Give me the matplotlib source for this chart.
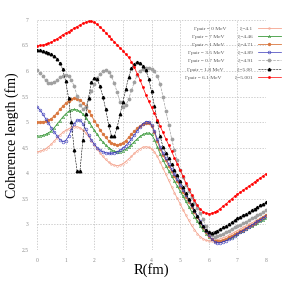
import numpy as np
import matplotlib
matplotlib.use("Agg")
import matplotlib.pyplot as plt

# R grid (fm), step 0.1
r = np.arange(0, 81) / 10.0

salmon = [4.42, 4.43, 4.45, 4.48, 4.52, 4.57, 4.63, 4.69, 4.75, 4.80,
          4.84, 4.87, 4.90, 4.91, 4.91, 4.89, 4.85, 4.79, 4.72, 4.64,
          4.56, 4.48, 4.40, 4.33, 4.27, 4.22, 4.18, 4.16, 4.15, 4.16,
          4.19, 4.23, 4.28, 4.33, 4.39, 4.44, 4.48, 4.51, 4.52, 4.51,
          4.48, 4.42, 4.33, 4.22, 4.10, 3.98, 3.86, 3.74, 3.62, 3.51,
          3.40, 3.29, 3.18, 3.08, 2.98, 2.90, 2.82, 2.76, 2.72, 2.69,
          2.68, 2.68, 2.69, 2.70, 2.72, 2.74, 2.76, 2.79, 2.82, 2.85,
          2.88, 2.91, 2.94, 2.97, 3.00, 3.03, 3.06, 3.09, 3.12, 3.15,
          3.18]

green = [4.73, 4.73, 4.74, 4.76, 4.79, 4.83, 4.89, 4.96, 5.03, 5.10,
         5.16, 5.21, 5.24, 5.25, 5.24, 5.21, 5.16, 5.09, 5.01, 4.93,
         4.84, 4.76, 4.68, 4.61, 4.55, 4.50, 4.46, 4.43, 4.42, 4.42,
         4.44, 4.47, 4.51, 4.56, 4.62, 4.67, 4.72, 4.76, 4.78, 4.79,
         4.76, 4.66, 4.52, 4.38, 4.26, 4.15, 4.05, 3.95, 3.85, 3.75,
         3.65, 3.55, 3.45, 3.35, 3.25, 3.15, 3.06, 2.97, 2.89, 2.82,
         2.76, 2.71, 2.68, 2.67, 2.67, 2.69, 2.71, 2.73, 2.76, 2.79,
         2.82, 2.85, 2.88, 2.91, 2.94, 2.97, 3.00, 3.03, 3.06, 3.09,
         3.12]

orange = [5.00, 5.00, 5.01, 5.02, 5.04, 5.07, 5.12, 5.18, 5.25, 5.31,
          5.37, 5.42, 5.45, 5.47, 5.46, 5.43, 5.38, 5.31, 5.22, 5.13,
          5.03, 4.94, 4.85, 4.77, 4.70, 4.64, 4.60, 4.57, 4.56, 4.57,
          4.60, 4.64, 4.70, 4.76, 4.82, 4.88, 4.93, 4.96, 4.98, 4.98,
          4.93, 4.80, 4.63, 4.48, 4.36, 4.25, 4.14, 4.04, 3.94, 3.84,
          3.74, 3.64, 3.54, 3.44, 3.34, 3.24, 3.14, 3.04, 2.94, 2.85,
          2.77, 2.71, 2.68, 2.67, 2.68, 2.70, 2.72, 2.75, 2.78, 2.81,
          2.84, 2.87, 2.90, 2.93, 2.96, 2.99, 3.03, 3.07, 3.11, 3.15,
          3.19]

blue = [5.30, 5.24, 5.16, 5.07, 4.98, 4.89, 4.81, 4.73, 4.66, 4.62,
        4.64, 4.72, 4.85, 4.97, 5.04, 5.04, 4.97, 4.86, 4.75, 4.65,
        4.57, 4.50, 4.45, 4.42, 4.40, 4.39, 4.39, 4.40, 4.42, 4.45,
        4.49, 4.54, 4.60, 4.67, 4.75, 4.83, 4.91, 4.97, 5.01, 5.01,
        4.95, 4.83, 4.67, 4.52, 4.40, 4.29, 4.18, 4.08, 3.98, 3.88,
        3.78, 3.68, 3.58, 3.47, 3.37, 3.27, 3.17, 3.07, 2.97, 2.88,
        2.79, 2.72, 2.66, 2.64, 2.64, 2.66, 2.68, 2.71, 2.74, 2.78,
        2.81, 2.85, 2.88, 2.92, 2.95, 2.99, 3.02, 3.06, 3.09, 3.13,
        3.16]

gray = [6.01, 5.97, 5.90, 5.82, 5.77, 5.76, 5.78, 5.83, 5.88, 5.91,
        5.92, 5.90, 5.83, 5.70, 5.52, 5.34, 5.26, 5.30, 5.45, 5.60,
        5.74, 5.86, 5.95, 6.00, 6.02, 5.99, 5.90, 5.76, 5.58, 5.40,
        5.30, 5.33, 5.45, 5.62, 5.79, 5.92, 6.00, 6.04, 6.05, 6.05,
        6.04, 6.00, 5.90, 5.75, 5.50, 5.22, 4.95, 4.68, 4.45, 4.25,
        4.07, 3.92, 3.78, 3.65, 3.53, 3.42, 3.32, 3.22, 3.10, 2.97,
        2.86, 2.79, 2.76, 2.77, 2.79, 2.82, 2.85, 2.88, 2.91, 2.94,
        2.96, 2.99, 3.02, 3.05, 3.08, 3.12, 3.15, 3.18, 3.21, 3.25,
        3.28]

black = [6.41, 6.41, 6.40, 6.38, 6.36, 6.34, 6.30, 6.24, 6.15, 6.03,
         5.80, 5.48, 5.00, 4.45, 4.05, 4.04, 4.65, 5.15, 5.48, 5.78,
         5.87, 5.84, 5.70, 5.50, 5.25, 4.95, 4.73, 4.72, 4.90, 5.15,
         5.40, 5.65, 5.88, 6.05, 6.14, 6.18, 6.16, 6.10, 6.02, 5.85,
         5.60, 5.32, 5.02, 4.72, 4.52, 4.40, 4.29, 4.18, 4.07, 3.96,
         3.84, 3.73, 3.61, 3.50, 3.39, 3.28, 3.16, 3.05, 2.96, 2.89,
         2.85, 2.84, 2.86, 2.88, 2.91, 2.94, 2.97, 3.01, 3.04, 3.08,
         3.12, 3.15, 3.18, 3.21, 3.24, 3.28, 3.31, 3.34, 3.37, 3.40,
         3.43]

red = [6.49, 6.50, 6.51, 6.52, 6.54, 6.56, 6.60, 6.63, 6.67, 6.71,
       6.74, 6.77, 6.80, 6.84, 6.87, 6.90, 6.93, 6.95, 6.97, 6.97,
       6.95, 6.91, 6.86, 6.81, 6.75, 6.69, 6.63, 6.57, 6.51, 6.45,
       6.40, 6.33, 6.27, 6.18, 6.07, 5.95, 5.82, 5.68, 5.54, 5.41,
       5.29, 5.17, 5.05, 4.92, 4.80, 4.67, 4.55, 4.43, 4.30, 4.18,
       4.06, 3.94, 3.81, 3.69, 3.58, 3.47, 3.37, 3.30, 3.25, 3.22,
       3.21, 3.22, 3.24, 3.27, 3.31, 3.36, 3.40, 3.45, 3.50, 3.55,
       3.59, 3.63, 3.67, 3.71, 3.75, 3.79, 3.83, 3.87, 3.91, 3.95,
       3.99]

labels = ["Γpair = 0 MeV", "Γpair = 7 MeV", "Γpair = 1 MeV", "Γpair = 3.5 MeV",
          "Γpair = 0.7 MeV", "Γpair = 1.8 MeV", "Γpair = 6.1 MeV"]
xis = ["ξ=4.1", "ξ=4.46", "ξ=4.71", "ξ=4.89", "ξ=4.91", "ξ=5.00", "ξ=5.001"]

series = [salmon, green, orange, blue, gray, black, red]
styles = [
    dict(color="#f5a58f", marker="o", ms=1.3, mfc="none", mew=0.4, ls="-", lw=0.6),
    dict(color="#3c9a3c", marker="^", ms=1.7, mfc="none", mew=0.4, ls="-", lw=0.6),
    dict(color="#d9773f", marker="o", ms=1.4, ls="-", lw=0.6),
    dict(color="#3838b8", marker="o", ms=2.0, mfc="none", mew=0.4, ls="-", lw=0.5),
    dict(color="#a0a0a0", marker="o", ms=1.7, ls="--", lw=0.5),
    dict(color="#000000", marker="^", ms=1.8, ls="--", lw=0.4),
    dict(color="#ff0000", marker="s", ms=0.9, ls="-", lw=0.5),
]

fig = plt.figure(figsize=(2.87, 2.88), dpi=100)
ax = fig.add_axes([0.129, 0.132, 0.798, 0.799])

for y, lab, xi, st in zip(series, labels, xis, styles):
    ax.plot(r, y, label=f"{lab}          {xi}", **st)

ax.set_xlim(0, 8)
ax.set_ylim(2.5, 7)
ax.set_xticks(range(0, 9))
ax.set_yticks([2.5, 3, 3.5, 4, 4.5, 5, 5.5, 6, 6.5, 7])
ax.set_yticklabels(["2.5", "3", "3.5", "4", "4.5", "5", "5.5", "6", "6.5", "7"])
ax.tick_params(length=0, labelsize=4, labelcolor="#888888", pad=6)
for lab in ax.get_xticklabels() + ax.get_yticklabels():
    lab.set_family("Liberation Serif")
for s in ax.spines.values():
    s.set_visible(False)
ax.grid(True, ls=(0, (2, 2)), lw=0.5, color="#bbbbbb")
ax.set_axisbelow(True)

ax.set_xlabel("R(fm)", family="Liberation Serif", fontsize=10.5, labelpad=0)
ax.set_ylabel("Coherence length (fm)", family="Liberation Serif", fontsize=10, labelpad=2)

leg = ax.legend(loc="upper right", bbox_to_anchor=(1.08, 0.99), frameon=False,
                markerfirst=False, handlelength=4.2,
                prop={"family": "Liberation Serif", "size": 3.9},
                labelspacing=0.62, borderpad=0.2, handletextpad=1.0)
for t in leg.get_texts():
    t.set_color("#555555")

fig.savefig("out.png", dpi=100)
